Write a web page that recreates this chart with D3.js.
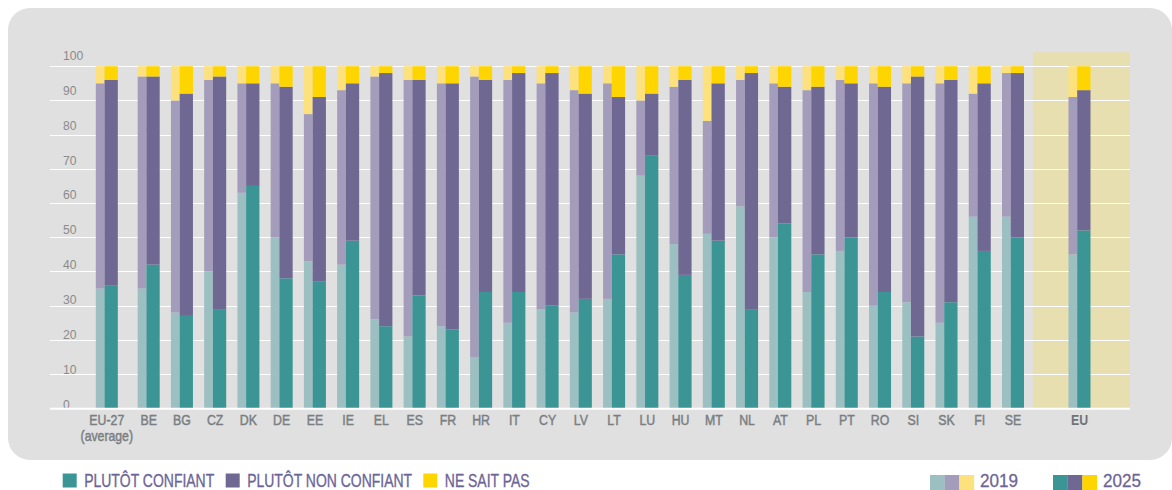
<!DOCTYPE html>
<html>
<head>
<meta charset="utf-8">
<script src="https://cdn.jsdelivr.net/npm/d3@7"></script>
<style>
  html, body { margin: 0; padding: 0; background: #ffffff; }
  svg { display: block; }
  text { font-family: 'Liberation Sans', Arial, sans-serif; }
</style>
</head>
<body>
<svg id="chart" width="1172" height="490"></svg>
<script>
// ---------- DATA ----------
const categories = ["EU-27","BE","BG","CZ","DK","DE","EE","IE","EL","ES","FR","HR","IT","CY","LV","LT","LU","HU","MT","NL","AT","PL","PT","RO","SI","SK","FI","SE","EU"];
const conf2019    = [35,35,28,40,63,50,43,42,26,21,24,15,25,29,28,32,68,48,51,59,50,34,46,30,31,25,56,56,45];
const nonConf2019 = [60,62,62,56,32,45,43,51,71,75,71,82,71,66,65,63,22,46,33,37,45,59,50,65,64,70,36,42,46];
const nsp2019     = [ 5, 3,10, 4, 5, 5,14, 7, 3, 4, 5, 3, 4, 5, 7, 5,10, 6,16, 4, 5, 7, 4, 5, 5, 5, 8, 2, 9];
const conf2025    = [36,42,27,29,65,38,37,49,24,33,23,34,34,30,32,45,74,39,49,29,54,45,50,34,21,31,46,50,52];
const nonConf2025 = [60,55,65,68,30,56,54,46,74,63,72,62,64,68,60,46,18,57,46,69,40,49,45,60,76,65,49,48,41];
const nsp2025     = [ 4, 3, 8, 3, 5, 6, 9, 5, 2, 4, 5, 4, 2, 2, 8, 9, 8, 4, 5, 2, 6, 6, 5, 6, 3, 4, 5, 2, 7];
const yTicks = [0,10,20,30,40,50,60,70,80,90,100];
const seriesLabels = ["PLUTÔT CONFIANT","PLUTÔT NON CONFIANT","NE SAIT PAS"];
const years = ["2019","2025"];

// ---------- STYLE / LAYOUT ----------
const colors = {
  "2019": ["#9cbfc1","#a39cba","#fde17c"],
  "2025": ["#3b9595","#6f6893","#ffd500"]
};
const keys = ["conf","nonConf","nsp"];

const svg = d3.select("#chart");

// condensed text helper (horizontal squeeze to mimic a condensed typeface)
function ctext(g, x, y, str, size, squeeze, fill, anchor, weight, thick) {
  const t = g.append("text")
    .attr("transform", `translate(${x},${y}) scale(${squeeze},1)`)
    .attr("font-size", size + "px")
    .attr("fill", fill)
    .attr("text-anchor", anchor || "start")
    .attr("font-weight", weight || "normal")
    .text(str);
  if (thick) t.attr("stroke", fill).attr("stroke-width", thick);
  return t;
}

// panel
svg.append("rect").attr("x",8).attr("y",8).attr("width",1164).attr("height",452)
  .attr("rx",22).attr("ry",22).attr("fill","#dfe0df");

const y = d3.scaleLinear().domain([0,100]).range([408.3,66.2]);
const yLab = d3.scaleLinear().domain([0,100]).range([403.5,55]);
// slot layout: EU-27 set apart on the left, EU set apart on the right
const slot = categories.map((c,i) => c === "EU-27" ? -1.26 : (c === "EU" ? 28 : i - 1));
const x = d3.scaleLinear().domain([0,26]).range([137.7,1002]);
const w2019 = 8.7, w2025 = 13.3;
const gridX0 = 50, gridX1 = 1130;

// EU highlight
const euIdx = categories.indexOf("EU");
svg.append("rect")
  .attr("x", x(slot[euIdx]) - 35.6).attr("y", 52.3)
  .attr("width", gridX1 - (x(slot[euIdx]) - 35.6)).attr("height", y(0) - 52.3)
  .attr("fill","#e7dfb0");

// grid
svg.append("g").selectAll("line").data(yTicks.filter(d => d > 0)).join("line")
  .attr("x1",gridX0).attr("x2",gridX1)
  .attr("y1",d => Math.round(y(d)) + 0.5).attr("y2",d => Math.round(y(d)) + 0.5)
  .attr("stroke","#ffffff").attr("stroke-width",1);

// tick labels
const tg = svg.append("g");
yTicks.forEach(d => ctext(tg, 63, yLab(d) + 5, d, 13.5, 0.9, "#8a8b8d"));

// stacked bars
const rows = categories.map((c,i) => ({
  cat: c, i,
  "2019": {conf: conf2019[i], nonConf: nonConf2019[i], nsp: nsp2019[i]},
  "2025": {conf: conf2025[i], nonConf: nonConf2025[i], nsp: nsp2025[i]}
}));
years.forEach(yr => {
  const stacked = d3.stack().keys(keys)(rows.map(r => r[yr]));
  const g = svg.append("g");
  stacked.forEach((layer, k) => {
    g.append("g").attr("fill", colors[yr][k])
      .selectAll("rect").data(layer).join("rect")
      .attr("x",(d,i) => yr === "2019" ? x(slot[i]) : x(slot[i]) + w2019)
      .attr("width", yr === "2019" ? w2019 : w2025)
      .attr("y", d => y(d[1]))
      .attr("height", d => y(d[0]) - y(d[1]));
  });
});

// base axis line
svg.append("line").attr("x1",gridX0).attr("x2",gridX1)
  .attr("y1",y(0)+0.5).attr("y2",y(0)+0.5)
  .attr("stroke","#ffffff").attr("stroke-width",2);

// x labels
const xl = svg.append("g");
categories.forEach((c,i) => {
  const cx = x(slot[i]) + (w2019 + w2025)/2;
  if (c === "EU") ctext(xl, cx, 425, c, 14, 0.88, "#6f7379", "middle", "bold");
  else ctext(xl, cx, 425, c, 14, 0.88, "#7a7e83", "middle", "normal", 0.45);
  if (c === "EU-27") ctext(xl, cx, 441, "(average)", 14, 0.875, "#7a7e83", "middle", "normal", 0.45);
});

// legend (series)
const legendColor = "#6c6596";
const lg = svg.append("g");
const legX = [62.7, 225.7, 423.3];
seriesLabels.forEach((s,k) => {
  lg.append("rect").attr("x",legX[k]).attr("y",473.5).attr("width",14).attr("height",14)
    .attr("fill", colors["2025"][k]);
  ctext(lg, legX[k] + 21.5, 487.3, s, 18.5, 0.755, legendColor, "start", "normal", 0.35);
});

// legend (years)
const yearX = {"2019": 930, "2025": 1053};
years.forEach(yr => {
  colors[yr].forEach((col,k) => {
    lg.append("rect").attr("x",yearX[yr] + k*14.67).attr("y",475).attr("width",14.8).attr("height",15)
      .attr("fill",col);
  });
  ctext(lg, yearX[yr] + 50, 487, yr, 19, 0.9, legendColor, "start", "normal", 0.3);
});
</script>
</body>
</html>
